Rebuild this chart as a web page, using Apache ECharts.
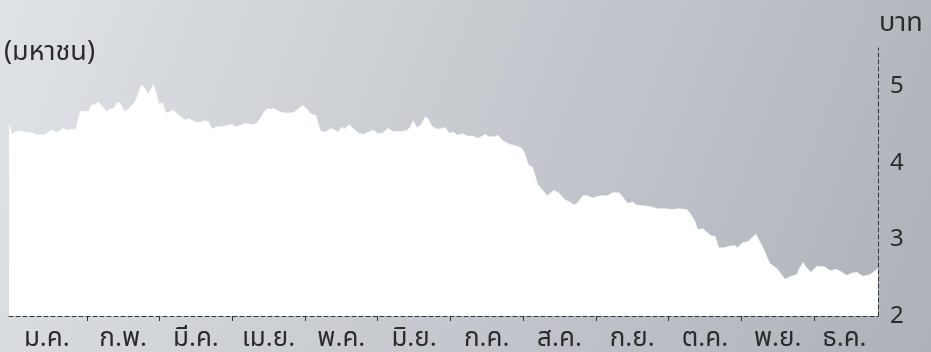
<!DOCTYPE html>
<html>
<head>
<meta charset="utf-8">
<script src="https://cdn.jsdelivr.net/npm/echarts@6/dist/echarts.min.js"></script>
<style>
html,body{margin:0;padding:0;}
#c{width:931px;height:352px;}
</style>
</head>
<body>
<div id="c"></div>
<script>
// Month labels (Thai abbreviations)
var months = ['ม.ค.','ก.พ.','มี.ค.','เม.ย.','พ.ค.','มิ.ย.','ก.ค.','ส.ค.','ก.ย.','ต.ค.','พ.ย.','ธ.ค.'];
// Position of each reading, in months from the start of the year
var monthPos = [
 -0.07,-0.03,0.01,0.08,0.15,0.26,0.32,0.36,0.41,0.52,0.58,0.62,0.67,0.73,0.78,0.85,
 0.91,0.96,1.02,1.07,1.11,1.16,1.21,1.27,1.32,1.38,1.42,1.46,1.51,1.55,1.61,1.66,
 1.71,1.75,1.80,1.84,1.88,1.91,1.95,1.99,2.04,2.09,2.13,2.19,2.24,2.30,2.35,2.41,
 2.45,2.50,2.56,2.61,2.67,2.72,2.78,2.83,2.89,2.94,3.00,3.05,3.11,3.16,3.22,3.27,
 3.33,3.38,3.44,3.49,3.53,3.57,3.63,3.68,3.74,3.79,3.85,3.97,4.03,4.08,4.15,4.21,
 4.28,4.36,4.41,4.45,4.51,4.54,4.61,4.66,4.73,4.80,4.87,4.94,5.00,5.07,5.14,5.21,
 5.31,5.40,5.44,5.49,5.54,5.60,5.65,5.69,5.75,5.82,5.88,5.93,5.98,6.04,6.10,6.17,
 6.23,6.31,6.38,6.48,6.53,6.60,6.65,6.72,6.82,6.91,6.98,7.02,7.07,7.13,7.20,7.27,
 7.33,7.42,7.49,7.57,7.64,7.70,7.74,7.82,7.88,7.96,8.06,8.16,8.23,8.32,8.37,8.44,
 8.51,8.56,8.65,8.74,8.85,8.98,9.05,9.13,9.25,9.29,9.36,9.40,9.47,9.53,9.58,9.64,
 9.69,9.76,9.83,9.91,9.95,10.02,10.09,10.20,10.25,10.32,10.39,10.49,10.60,10.69,10.76,10.80,
 10.85,10.89,10.96,11.04,11.15,11.22,11.30,11.35,11.45,11.52,11.59,11.67,11.77,11.88
];
// Share price (baht)
var price = [
 4.51,4.37,4.40,4.42,4.40,4.39,4.36,4.37,4.36,4.43,4.40,4.41,4.45,4.43,4.44,4.44,
 4.67,4.67,4.67,4.76,4.76,4.79,4.74,4.67,4.70,4.72,4.79,4.78,4.68,4.68,4.74,4.79,
 4.91,5.02,4.97,4.90,4.95,5.02,4.93,4.77,4.78,4.65,4.66,4.69,4.64,4.60,4.56,4.58,
 4.55,4.53,4.53,4.55,4.54,4.44,4.47,4.47,4.48,4.49,4.50,4.47,4.49,4.51,4.51,4.50,
 4.51,4.57,4.67,4.71,4.70,4.71,4.68,4.66,4.65,4.65,4.66,4.75,4.70,4.64,4.62,4.42,
 4.40,4.45,4.43,4.40,4.47,4.44,4.50,4.45,4.39,4.37,4.40,4.43,4.38,4.39,4.45,4.41,
 4.41,4.42,4.46,4.55,4.46,4.50,4.60,4.58,4.47,4.44,4.45,4.46,4.39,4.40,4.36,4.38,
 4.35,4.35,4.32,4.37,4.34,4.34,4.36,4.29,4.24,4.22,4.19,4.13,3.98,3.94,3.72,3.64,
 3.57,3.64,3.61,3.52,3.49,3.45,3.47,3.57,3.57,3.54,3.57,3.57,3.61,3.61,3.55,3.47,
 3.49,3.45,3.44,3.43,3.40,3.40,3.39,3.40,3.39,3.35,3.24,3.13,3.14,3.09,3.05,3.04,
 2.89,2.89,2.91,2.92,2.89,2.96,2.97,3.07,2.98,2.85,2.69,2.62,2.48,2.52,2.54,2.62,
 2.70,2.64,2.57,2.65,2.64,2.59,2.61,2.59,2.53,2.56,2.57,2.52,2.54,2.62
];
var monthBoundaries = [1,2,3,4,5,6,7,8,9,10,11];
var monthLabelPos = [0.45,1.5,2.5,3.5,4.5,5.5,6.5,7.5,8.5,9.5,10.5,11.42];
var yTicks = [2,3,4,5];
var titleText = '(มหาชน)';
var unitText = 'บาท';

var FONT = "'Noto Sans', 'Noto Sans Thai', sans-serif";
var TXT = '#2b2b2b';

var seriesData = monthPos.map(function(m, i){ return [m, price[i]]; });

var chart = echarts.init(document.getElementById('c'), null, {renderer:'canvas'});
chart.setOption({
  animation: false,
  backgroundColor: {
    type: 'linear', x: 0, y: 0, x2: 1, y2: 1,
    colorStops: [{offset: 0, color: '#dfe2e6'}, {offset: 1, color: '#adb2b9'}]
  },
  textStyle: {fontFamily: FONT},
  grid: {left: 9, right: 53, top: 48, bottom: 31, containLabel: false},
  graphic: [
    {type: 'text', left: 4, top: 39, style: {text: titleText, fill: TXT, font: "27px " + FONT}},
    {type: 'text', left: 879, top: 10, style: {text: unitText, fill: TXT, font: "27px " + FONT}}
  ],
  xAxis: {
    type: 'value', min: -0.07, max: 11.88,
    axisLine: {show: true, onZero: false, lineStyle: {color: '#333', type: [4, 3], width: 1}},
    axisTick: {show: true, customValues: monthBoundaries, length: 5, lineStyle: {color: '#333', width: 1}},
    axisLabel: {
      show: true, customValues: monthLabelPos, margin: 10,
      color: TXT, fontSize: 26, fontFamily: FONT,
      formatter: function(v){ var idx = Math.floor(v); return months[Math.max(0, Math.min(11, idx))]; }
    },
    splitLine: {show: false}
  },
  yAxis: {
    type: 'value', position: 'right', min: 2, max: 5.5,
    axisLine: {show: true, onZero: false, lineStyle: {color: '#333', type: [4, 3], width: 1}},
    axisTick: {show: false},
    axisLabel: {show: true, customValues: yTicks, margin: 12, color: TXT, fontSize: 24, fontFamily: FONT,
      padding: [0, 0, 9, 0]},
    splitLine: {show: false}
  },
  series: [{
    type: 'line',
    data: seriesData,
    showSymbol: false,
    symbol: 'none',
    lineStyle: {width: 0.5, color: '#ffffff'},
    areaStyle: {color: '#ffffff', opacity: 1, origin: 'start'},
    z: 1
  }]
});
</script>
</body>
</html>
